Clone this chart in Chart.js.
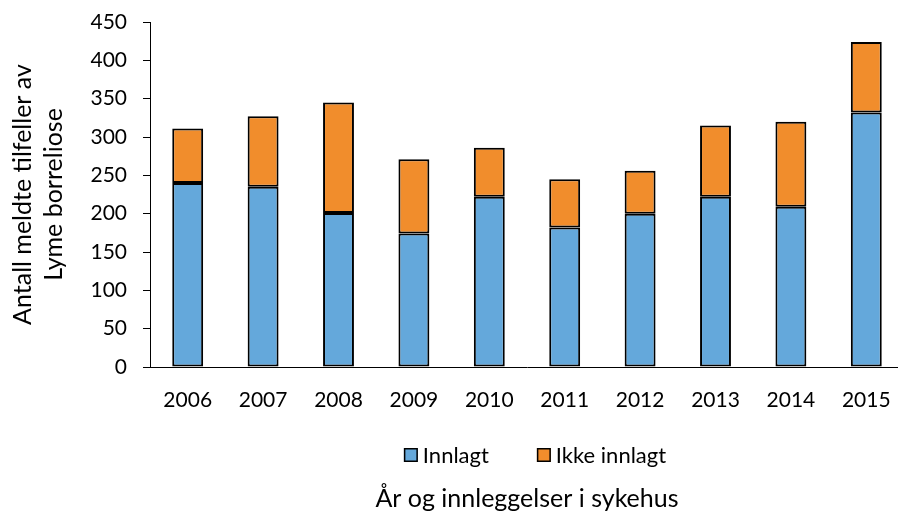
<!DOCTYPE html>
<html>
<head>
<meta charset="utf-8">
<script src="https://cdn.jsdelivr.net/npm/chart.js@4/dist/chart.umd.min.js"></script>
<style>
  html, body { margin: 0; padding: 0; background: #fff; overflow: hidden; }
  #wrap { position: relative; width: 906px; height: 514px; }
</style>
</head>
<body>
<div id="wrap"><canvas id="c"></canvas></div>
<script>
// Meldte tilfeller av Lyme borreliose per år, fordelt på innlagt / ikke innlagt
const years = ['2006', '2007', '2008', '2009', '2010', '2011', '2012', '2013', '2014', '2015'];
const innlagt = [240, 235, 201, 174, 222, 182, 200, 222, 209, 332];
const ikkeInnlagt = [71, 92, 144, 97, 64, 63, 56, 93, 111, 92];
const yTicks = [0, 50, 100, 150, 200, 250, 300, 350, 400, 450];

const BLUE = '#64A8DB';
const ORANGE = '#F18D2C';
const INK = '#000000';
const FONT = 'Lato, "Open Sans", sans-serif';

// Legend drawn between the year labels and the x-axis title
const legendBetween = {
  id: 'legendBetween',
  afterDraw(chart) {
    const ctx = chart.ctx;
    const items = chart.data.datasets.map(d => ({ label: d.label, color: d.backgroundColor }));
    ctx.save();
    ctx.font = '22px ' + FONT;
    ctx.textBaseline = 'middle';
    const box = 14, gapText = 5, gapItem = 48;
    let total = 0;
    items.forEach((it, i) => {
      total += box + gapText + ctx.measureText(it.label).width;
      if (i < items.length - 1) total += gapItem;
    });
    const cx = (chart.chartArea.left + chart.chartArea.right) / 2 + 8;
    let x = cx - total / 2;
    const y = 455;
    items.forEach(it => {
      ctx.fillStyle = it.color;
      ctx.fillRect(x, y - box / 2, box, box);
      ctx.strokeStyle = '#000';
      ctx.lineWidth = 1.5;
      ctx.strokeRect(x + 0.75, y - box / 2 + 0.75, box - 1.5, box - 1.5);
      x += box + gapText;
      ctx.fillStyle = INK;
      ctx.fillText(it.label, x, y + 1);
      x += ctx.measureText(it.label).width + gapItem;
    });
    ctx.restore();
  }
};

new Chart(document.getElementById('c'), {
  type: 'bar',
  data: {
    labels: years,
    datasets: [
      {
        label: 'Innlagt',
        data: innlagt,
        backgroundColor: BLUE,
        borderColor: '#000',
        borderWidth: 2,
        borderSkipped: false
      },
      {
        label: 'Ikke innlagt',
        data: ikkeInnlagt,
        backgroundColor: ORANGE,
        borderColor: '#000',
        borderWidth: 2,
        borderSkipped: false
      }
    ]
  },
  options: {
    responsive: true,
    maintainAspectRatio: false,
    animation: false,
    devicePixelRatio: 1,
    layout: { padding: { top: 22, right: 2, bottom: 0, left: 0 } },
    datasets: { bar: { barPercentage: 0.41, categoryPercentage: 1 } },
    plugins: {
      legend: { display: false },
      tooltip: { enabled: false }
    },
    scales: {
      x: {
        stacked: true,
        grid: { display: false },
        border: { display: true, color: '#000', width: 1 },
        ticks: { color: INK, font: { family: FONT, size: 21 }, padding: 13, maxRotation: 0 },
        title: {
          display: true,
          text: 'År og innleggelser i sykehus',
          color: INK,
          font: { family: FONT, size: 25, lineHeight: 1.2 },
          padding: { top: 0, bottom: 0 }
        },
        afterFit(scale) { scale.height = 147; scale.paddingLeft = 0; scale.paddingRight = 0; }
      },
      y: {
        stacked: true,
        min: 0,
        max: 450,
        afterBuildTicks(scale) { scale.ticks = yTicks.map(v => ({ value: v })); },
        grid: { display: true, drawOnChartArea: false, drawTicks: true, tickLength: 7, color: '#000', lineWidth: 1 },
        border: { display: true, color: '#000', width: 1 },
        ticks: { color: INK, font: { family: FONT, size: 21 }, padding: 16 },
        title: {
          display: true,
          text: ['Antall meldte tilfeller av', 'Lyme borreliose'],
          color: INK,
          font: { family: FONT, size: 25, lineHeight: 1.24 },
          padding: { top: 7, bottom: 0 }
        },
        afterFit(scale) { scale.width = 150; scale.paddingTop = 0; scale.paddingBottom = 0; }
      }
    }
  },
  plugins: [legendBetween]
});
</script>
</body>
</html>
